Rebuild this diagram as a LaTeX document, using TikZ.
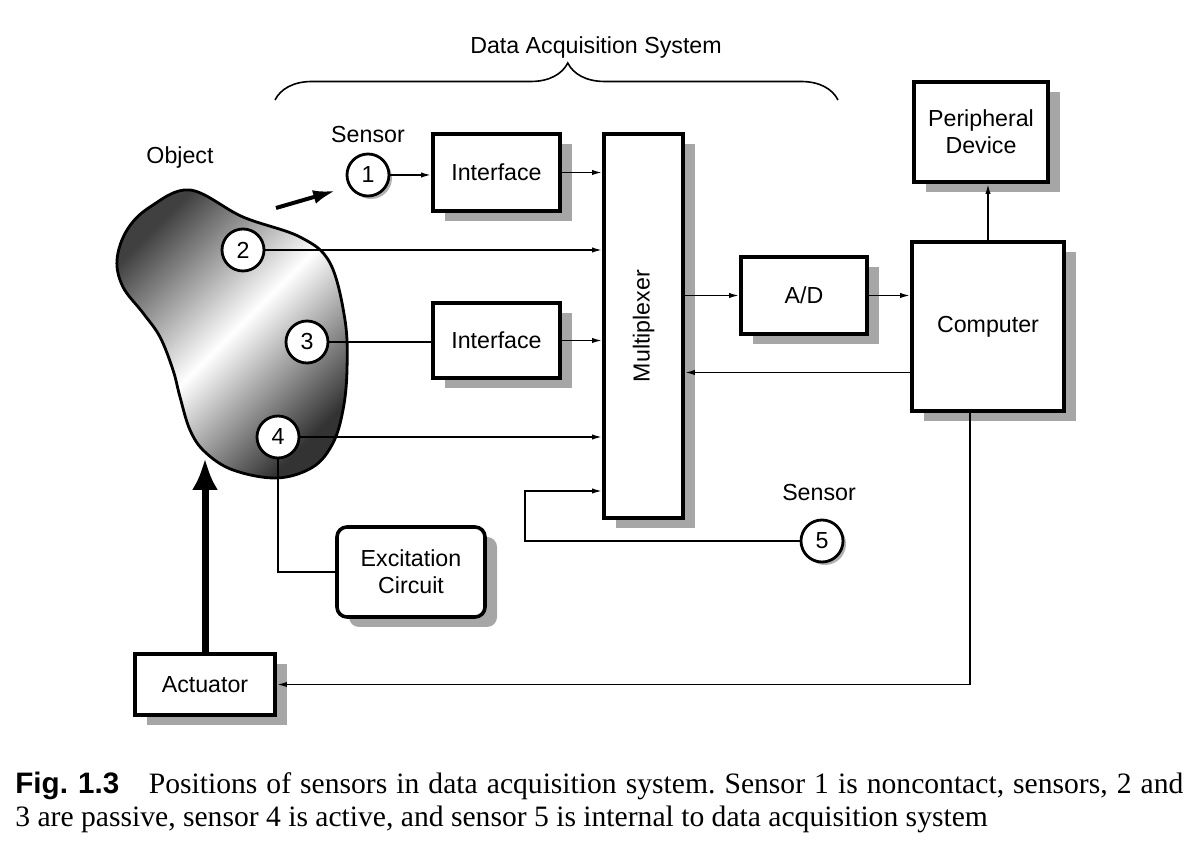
\documentclass[tikz,border=0pt]{standalone}
\usepackage{fontspec}
\setmainfont{Liberation Serif}
\newfontfamily\diagfont{Liberation Sans}
\usetikzlibrary{arrows.meta,decorations.pathreplacing,shadows}
\frenchspacing

\begin{document}
\begin{tikzpicture}[
x=0.5pt, y=-0.5pt,
font=\diagfont\fontsize{11.6}{13.5}\selectfont,
 >={Latex[length=5pt,width=2.6pt]},
    B/.style = {rectangle, draw, line width=1.8pt, fill=white,% blocks with grey shadow
                align=center, inner sep=0pt,
                drop shadow={shadow xshift=6pt, shadow yshift=-5pt, fill=black!35, opacity=1}},
    S/.style = {circle, draw, line width=1.4pt, fill=white,% sensors
                minimum size=21pt, inner sep=0pt},
   SS/.style = {S, drop shadow={shadow xshift=1.5pt, shadow yshift=-1.5pt, fill=black!30, opacity=1}},
    W/.style = {line width=0.8pt},
                        ]
\useasboundingbox (0,0) rectangle (1194,854);
% object
\draw[line width=1.4pt, top color=black!75, bottom color=black!80, middle color=white, shading angle=45]
  plot[smooth cycle, tension=0.6] coordinates {(190,190) (243,217) (300,237) (330,263) (345,320)
  (347,370) (343,410) (333,443) (313,467) (277,478) (233,470) (205,452) (190,430) (180,397)
  (173,370) (160,337) (143,313) (123,287) (117,260) (127,230) (150,207)};
\node (obj) at (180,158) {Object};
% sensors
\node[SS] (s1) at (368,175) {1};
\node[S]  (s2) at (243,250) {2};
\node[S]  (s3) at (307,342) {3};
\node[S]  (s4) at (278,437) {4};
\node[SS] (s5) at (822,541) {5};
\node (l1) at (368,135) {Sensor};
\node (l5) at (819,493) {Sensor};
% blocks
\node[B, minimum width=63.5pt, minimum height=38.5pt] (int1) at (496.5,172.5) {Interface};
\node[B, minimum width=63.5pt, minimum height=37.5pt] (int2) at (496.5,340.5) {Interface};
\node[B, minimum width=39.5pt, minimum height=192pt] (mux) at (643.5,326) {\rotatebox{90}{Multiplexer}};
\node[B, minimum width=63pt, minimum height=38.5pt] (ad) at (804,295.5) {A/D};
\node[B, minimum width=76pt, minimum height=84.5pt] (comp) at (988,326.5) {\raisebox{-3pt}{Computer}};
\node[B, minimum width=67pt, minimum height=50pt] (peri) at (981,132) {Peripheral\\Device};
\node[B, rounded corners=5pt, minimum width=74pt, minimum height=45pt] (exc) at (411,572) {Excitation\\Circuit};
\node[B, minimum width=70pt, minimum height=30.5pt] (act) at (205,684.5) {Actuator};
% connections
\draw[W,->] (s1) -- (s1 -| int1.west);
\draw[W,->] (int1.east) -- (int1.east -| mux.west);
\draw[W,->] (s2.east) -- (s2.east -| mux.west);
\draw[W] (s3.east) -- (s3.east -| int2.west);
\draw[W,->] (int2.east) -- (int2.east -| mux.west);
\draw[W,->] (s4.east) -- (s4.east -| mux.west);
\draw[W] (s4.south) |- (exc.west);
\coordinate (k5) at (525,491);
\draw[W,->] (s5.west) -| (k5) -- (k5 -| mux.west);
\draw[W,->] (ad.west -| mux.east) -- (ad.west);
\draw[W,->] (ad.east) -- (ad.east -| comp.west);
\draw[W,->] ([yshift=-23pt]comp.west) -- ([yshift=-23pt]comp.west -| mux.east);
\draw[W,->] (comp.north) -- (comp.north |- peri.south);
\draw[W,->] ([xshift=-9pt]comp.south) |- (act.east);
% noncontact and actuator arrows
\coordinate (o1) at (276,208);
\draw[line width=2pt, -{Latex[length=11pt,width=7pt]}] (o1) -- ([xshift=-8.5pt]s1.south west);
\coordinate (o4) at (205,458);
\draw[line width=3.5pt, -{Latex[length=16pt,width=13pt]}] (act.north) -- (o4);
% brace
\coordinate (b1) at (275,100);
\coordinate (b2) at (838,100);
\draw[line width=0.8pt, decorate, decoration={brace, amplitude=18.5pt, aspect=0.52}] (b1) -- (b2);
\node (das) at (596,48) {Data Acquisition System};
% caption
\node[anchor=base west, inner sep=0pt, font=\rmfamily\fontsize{14.8}{17}\selectfont] (cap1) at (15,793)
  {\makebox[584pt][s]{{\diagfont\bfseries Fig.~1.3}\quad Positions of sensors in data acquisition system. Sensor 1 is noncontact, sensors, 2 and}};
\node[anchor=base west, inner sep=0pt, font=\rmfamily\fontsize{14.8}{17}\selectfont] (cap2) at (15,827)
  {3 are passive, sensor 4 is active, and sensor 5 is internal to data acquisition system};
\end{tikzpicture}
\end{document}
